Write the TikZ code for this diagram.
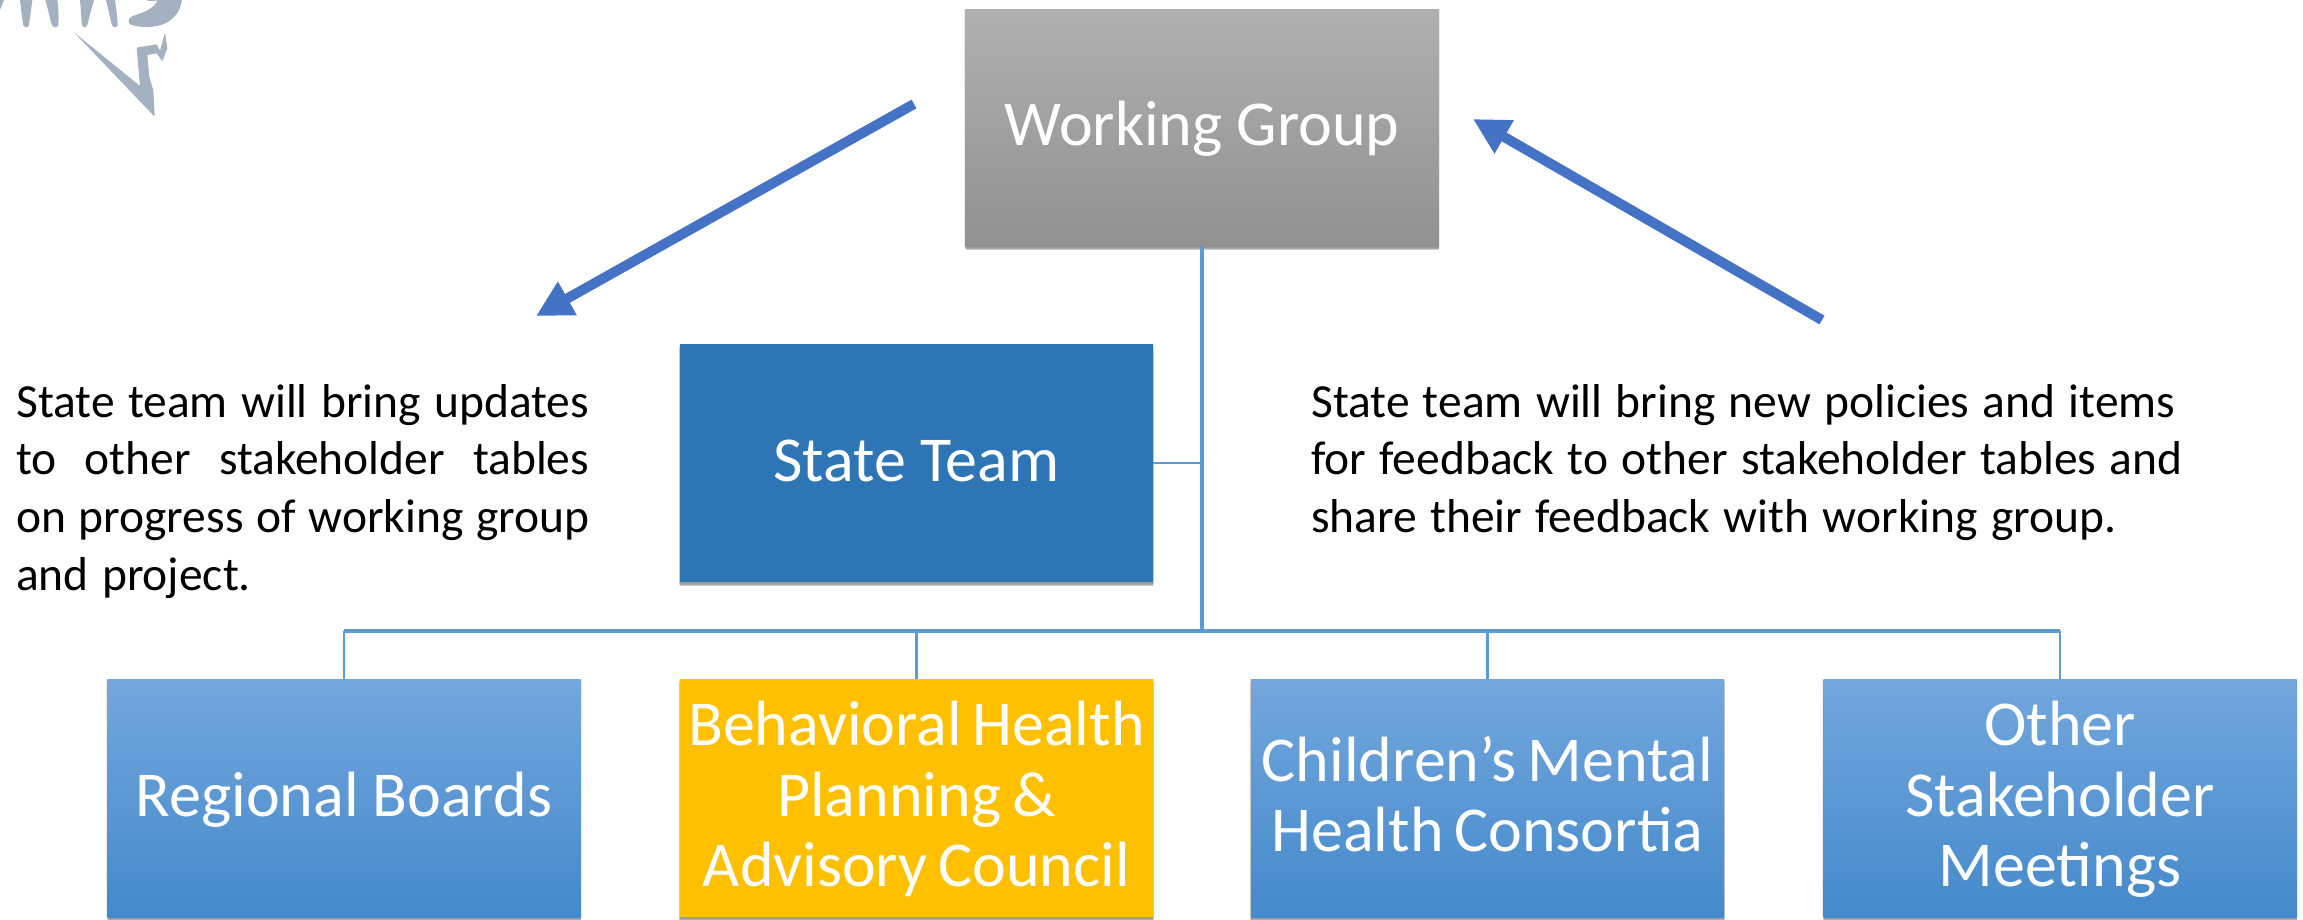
\documentclass[tikz,border=0pt]{standalone}
\usepackage{fontspec}
\setmainfont{Carlito}
\usetikzlibrary{shadows,arrows.meta}
\definecolor{conn}{HTML}{5B9BD5}
\definecolor{arrowblue}{HTML}{4472C4}
\definecolor{logo}{HTML}{A3B1C1}
\definecolor{stateblue}{HTML}{2E75B6}
\definecolor{amber}{HTML}{FFC000}
\definecolor{gtop}{HTML}{B0B0B0}
\definecolor{gbot}{HTML}{919191}
\definecolor{btop}{HTML}{73A7DD}
\definecolor{bbot}{HTML}{4489CB}
\newcommand{\setboxfont}{\fontsize{64}{70.3}\selectfont}
\newcommand{\setbodyfont}{\fontsize{47.5}{57.7}\selectfont}
\newcommand{\boxlines}[3][.22]{\raisebox{-#2pt}[0pt][0pt]{\parbox[t]{470pt}{\setboxfont\spaceskip=#1em\relax\centering\baselineskip=70.3pt\lineskiplimit=-100pt\relax #3}}}
\newcommand{\bodylines}[1]{\spaceskip=.28em plus .3em minus .02em\relax #1}
\tikzset{
  softshadow/.style={
    general shadow={shadow xshift=0pt,shadow yshift=-1pt,shadow scale=1.006,fill=black,opacity=.08},
    general shadow={shadow xshift=0pt,shadow yshift=-3pt,shadow scale=1.003,fill=black,opacity=.14},
    general shadow={shadow xshift=0pt,shadow yshift=-4pt,fill=black,opacity=.22}},
  box/.style={softshadow,inner sep=0pt,text=white,minimum width=473pt,minimum height=238pt},
  greybox/.style={box,top color=gtop,bottom color=gbot},
  statebox/.style={box,fill=stateblue},
  bluebox/.style={box,top color=btop,bottom color=bbot},
  amberbox/.style={box,fill=amber},
  body/.style={inner sep=0pt,font=\setbodyfont,anchor=north west},
  thin link/.style={draw=conn,line width=2.6pt},
  thick link/.style={draw=conn,line width=3.6pt},
  bigarrow/.style={draw=arrowblue,line width=10pt,-{Triangle[length=36pt,width=36pt]}}
}
\begin{document}
\begin{tikzpicture}[x=1pt,y=-1pt]
\useasboundingbox (0,0) rectangle (2303,919);
\fill[white] (0,0) rectangle (2303,919);
% logo fragment
\begin{scope}[xscale=1/3,yscale=1/3,fill=logo]
\fill (0,0) -- (12,0) -- (3,22) -- (0,30) -- cycle;
\fill (60,0) .. controls (64,30) and (66,60) .. (70,75) .. controls (74,84) and (84,84) .. (87,75) .. controls (90,50) and (95,20) .. (97,0) -- cycle;
\fill (136,0) .. controls (145,30) and (150,60) .. (156,75) .. controls (160,84) and (172,84) .. (175,75) .. controls (176,50) and (176,20) .. (172,0) -- cycle;
\fill (240,0) .. controls (243,30) and (244,60) .. (246,75) .. controls (250,84) and (258,84) .. (262,75) .. controls (268,50) and (276,20) .. (282,0) -- cycle;
\fill (318,0) .. controls (325,30) and (332,60) .. (336,75) .. controls (340,84) and (350,84) .. (353,75) .. controls (352,50) and (348,20) .. (345,0) -- cycle;
\fill (437,0) .. controls (445,4) and (470,4) .. (472,0) .. controls (470,18) and (440,36) .. (398,48) .. controls (384,54) and (382,68) .. (392,74) .. controls (420,84) and (470,84) .. (500,68) .. controls (525,54) and (542,30) .. (546,0) -- cycle;
\fill (223,98) -- (420,258) -- (410,143) -- (470,133) -- (480,152) -- (495,98) -- (502,145) -- (487,183) -- (470,160) -- (442,165) -- (448,232) -- (460,270) -- (464,350) -- cycle;
\end{scope}
% boxes
\node[greybox,minimum height=237pt] (wg) at (1202,127.5) {\boxlines{17.5}{Working Group}};
\node[statebox] (st) at (916.5,463) {\boxlines{18}{State Team}};
\node[bluebox] (rb) at (344,798) {\boxlines{18}{Regional Boards}};
\node[amberbox] (bh) at (916.5,798) {\boxlines[.17]{-52.3}{Behavioral Health\\Planning \&\\Advisory Council}};
\node[bluebox] (cm) at (1487.5,798) {\boxlines[.17]{-17}{Children’s Mental\\Health Consortia}};
\node[bluebox] (os) at (2060,798) {\boxlines{-52.3}{Other\\Stakeholder\\Meetings}};
% connectors
\coordinate (jct) at (wg.south |- 0,631);
\coordinate (jst) at (wg.south |- st.east);
\draw[thick link] (wg.south) -- (jct);
\draw[thin link] (st.east) -- (jst);
\draw[thick link] (jct) -- (jct -| rb.north);
\draw[thick link] (jct) -- (jct -| os.north);
\draw[thin link] (jct -| rb.north) -- (rb.north);
\draw[thin link] (jct -| bh.north) -- (bh.north);
\draw[thin link] (jct -| cm.north) -- (cm.north);
\draw[thin link] (jct -| os.north) -- (os.north);
% big arrows
\coordinate (a1s) at (914,104);
\coordinate (a1e) at (536,316);
\coordinate (a2s) at (1822,320);
\coordinate (a2e) at (1473,119);
\draw[bigarrow] (a1s) -- (a1e);
\draw[bigarrow] (a2s) -- (a2e);
% texts
\node[body,text width=573pt,align=justify] (tl) at (16,384) {\bodylines{State team will bring updates\linebreak to other stakeholder tables\linebreak on progress of working group\linebreak and project.}};
\node[body,text width=950pt,align=left] (tr) at (1311,384) {\bodylines{State team will bring new policies and items\\for feedback to other stakeholder tables and\\share their feedback with working group.}};
\end{tikzpicture}
\end{document}
